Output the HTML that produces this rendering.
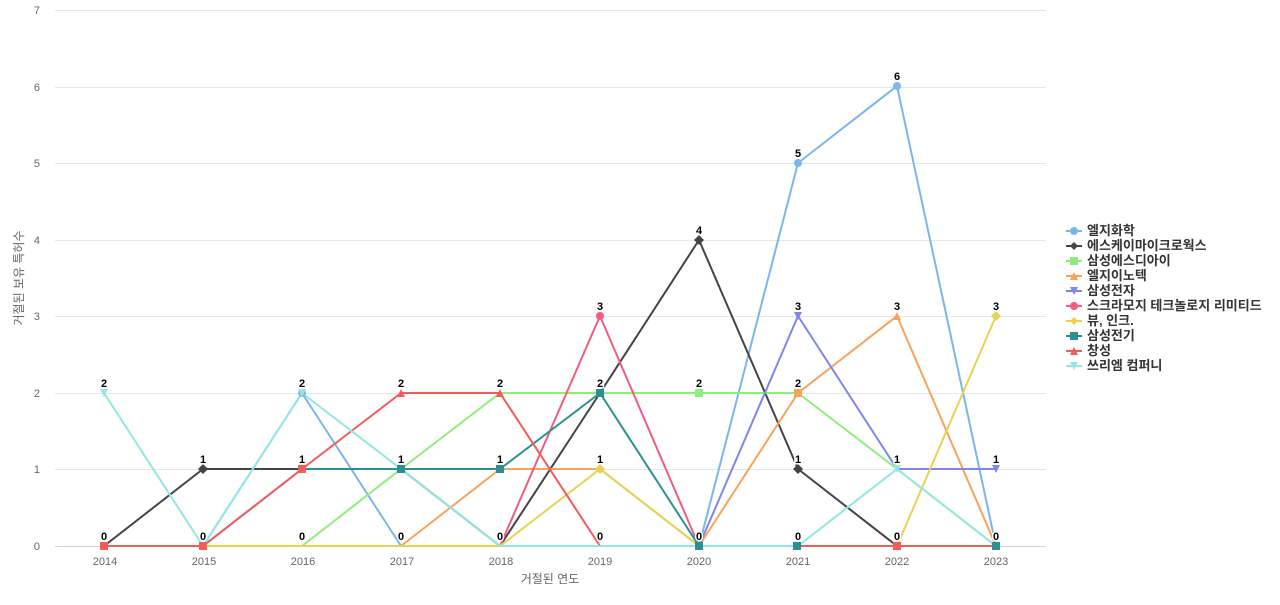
<!DOCTYPE html>
<html><head><meta charset="utf-8"><style>
body{margin:0;background:#fff;}
svg text{font-family:"Liberation Sans","Noto Sans CJK KR",sans-serif;}
</style></head><body>
<svg width="1280" height="600" viewBox="0 0 1280 600" xmlns="http://www.w3.org/2000/svg">
<g stroke="#e6e6e6" stroke-width="1">
<line x1="55" x2="1046" y1="10.5" y2="10.5"/><line x1="55" x2="1046" y1="87.5" y2="87.5"/><line x1="55" x2="1046" y1="163.5" y2="163.5"/><line x1="55" x2="1046" y1="240.5" y2="240.5"/><line x1="55" x2="1046" y1="316.5" y2="316.5"/><line x1="55" x2="1046" y1="393.5" y2="393.5"/><line x1="55" x2="1046" y1="469.5" y2="469.5"/>
</g>
<line x1="55" x2="1046" y1="546.5" y2="546.5" stroke="#ccd6eb"/>
<g font-size="11" fill="#666" text-anchor="end">
<text x="40" y="14">7</text><text x="40" y="91">6</text><text x="40" y="167">5</text><text x="40" y="244">4</text><text x="40" y="320">3</text><text x="40" y="397">2</text><text x="40" y="473">1</text><text x="40" y="550">0</text>
</g>
<g font-size="11" fill="#666" text-anchor="middle">
<text x="105" y="565">2014</text><text x="204" y="565">2015</text><text x="303" y="565">2016</text><text x="402" y="565">2017</text><text x="501" y="565">2018</text><text x="600" y="565">2019</text><text x="699" y="565">2020</text><text x="798" y="565">2021</text><text x="897" y="565">2022</text><text x="996" y="565">2023</text>
</g>
<text x="550" y="583" font-size="12" fill="#666" text-anchor="middle">거절된 연도</text>
<text transform="translate(23,278) rotate(-90)" font-size="12" fill="#666" text-anchor="middle">거절된 보유 특허수</text>
<g fill="none" stroke-width="2" stroke-linejoin="round">
<polyline stroke="#7cb5ec" points="104,546 203,546 302,393 401,546 500,546 600,546 699,546 798,163 897,86 996,546"/>
<polyline stroke="#434348" points="104,546 203,469 302,469 401,469 500,546 600,393 699,240 798,469 897,546 996,546"/>
<polyline stroke="#90ed7d" points="104,546 203,546 302,546 401,469 500,393 600,393 699,393 798,393 897,469 996,546"/>
<polyline stroke="#f7a35c" points="104,546 203,546 302,546 401,546 500,469 600,469 699,546 798,393 897,316 996,546"/>
<polyline stroke="#8085e9" points="104,546 203,546 302,546 401,546 500,546 600,546 699,546 798,316 897,469 996,469"/>
<polyline stroke="#f15c80" points="104,546 203,546 302,546 401,546 500,546 600,316 699,546 798,546 897,546 996,546"/>
<polyline stroke="#e4d354" points="104,546 203,546 302,546 401,546 500,546 600,469 699,546 798,546 897,546 996,316"/>
<polyline stroke="#2b908f" points="104,546 203,546 302,469 401,469 500,469 600,393 699,546 798,546 897,546 996,546"/>
<polyline stroke="#f45b5b" points="104,546 203,546 302,469 401,393 500,393 600,546 699,546 798,546 897,546 996,546"/>
<polyline stroke="#91e8e1" points="104,393 203,546 302,393 401,469 500,546 600,546 699,546 798,546 897,469 996,546"/>
</g>
<g>
<circle cx="302" cy="393" r="4" fill="#7cb5ec"/><circle cx="798" cy="163" r="4" fill="#7cb5ec"/><circle cx="897" cy="86" r="4" fill="#7cb5ec"/>
<circle cx="600" cy="316" r="4" fill="#f15c80"/>
<rect x="496" y="465" width="8" height="8" fill="#2b908f"/><rect x="596" y="389" width="8" height="8" fill="#2b908f"/><rect x="397" y="465" width="8" height="8" fill="#2b908f"/><rect x="298" y="465" width="8" height="8" fill="#f45b5b"/>
<rect x="695" y="389" width="8" height="8" fill="#90ed7d"/><rect x="794" y="389" width="8" height="8" fill="#f7a35c"/>
<polygon points="699,235 704,240 699,245 694,240" fill="#434348"/><polygon points="203,464 208,469 203,474 198,469" fill="#434348"/><polygon points="798,464 803,469 798,474 793,469" fill="#434348"/>
<polygon points="794,312 802,312 798,320" fill="#8085e9"/><polygon points="992,465 1000,465 996,473" fill="#8085e9"/>
<polygon points="897,312 901,320 893,320" fill="#f7a35c"/><polygon points="401,389 405,397 397,397" fill="#f45b5b"/><polygon points="500,389 504,397 496,397" fill="#f45b5b"/>
<polygon points="996,311 1001,316 996,321 991,316" fill="#e4d354"/><polygon points="600,464 605,469 600,474 595,469" fill="#e4d354"/>
<rect x="100" y="542" width="8" height="8" fill="#f45b5b"/><rect x="199" y="542" width="8" height="8" fill="#f45b5b"/><rect x="695" y="542" width="8" height="8" fill="#2b908f"/><rect x="793" y="542" width="8" height="8" fill="#2b908f"/><rect x="893" y="542" width="8" height="8" fill="#f45b5b"/><rect x="992" y="542" width="8" height="8" fill="#2b908f"/>
<polygon points="100,389 108,389 104,397" fill="#91e8e1"/><polygon points="298,389 306,389 302,397" fill="#91e8e1"/><polygon points="893,465 901,465 897,473" fill="#91e8e1"/>
</g>
<g font-size="11" font-weight="bold" fill="#000" text-anchor="middle" stroke="#fff" stroke-width="3" paint-order="stroke">
<text x="104" y="387">2</text><text x="104" y="540">0</text>
<text x="203" y="463">1</text><text x="203" y="540">0</text>
<text x="302" y="387">2</text><text x="302" y="463">1</text><text x="302" y="540">0</text>
<text x="401" y="387">2</text><text x="401" y="463">1</text><text x="401" y="540">0</text>
<text x="500" y="387">2</text><text x="500" y="463">1</text><text x="500" y="540">0</text>
<text x="600" y="310">3</text><text x="600" y="387">2</text><text x="600" y="463">1</text><text x="600" y="540">0</text>
<text x="699" y="234">4</text><text x="699" y="387">2</text><text x="699" y="540">0</text>
<text x="798" y="157">5</text><text x="798" y="310">3</text><text x="798" y="387">2</text><text x="798" y="463">1</text><text x="798" y="540">0</text>
<text x="897" y="80">6</text><text x="897" y="310">3</text><text x="897" y="463">1</text><text x="897" y="540">0</text>
<text x="996" y="310">3</text><text x="996" y="463">1</text><text x="996" y="540">0</text>
</g>
<g font-size="13" font-weight="bold" fill="#333">
<g stroke-width="2"><line x1="1066" x2="1082" y1="231" y2="231" stroke="#7cb5ec"/><line x1="1066" x2="1082" y1="246" y2="246" stroke="#434348"/><line x1="1066" x2="1082" y1="261" y2="261" stroke="#90ed7d"/><line x1="1066" x2="1082" y1="276" y2="276" stroke="#f7a35c"/><line x1="1066" x2="1082" y1="291" y2="291" stroke="#8085e9"/><line x1="1066" x2="1082" y1="306" y2="306" stroke="#f15c80"/><line x1="1066" x2="1082" y1="321" y2="321" stroke="#e4d354"/><line x1="1066" x2="1082" y1="336" y2="336" stroke="#2b908f"/><line x1="1066" x2="1082" y1="351" y2="351" stroke="#f45b5b"/><line x1="1066" x2="1082" y1="366" y2="366" stroke="#91e8e1"/></g>
<circle cx="1074" cy="231" r="4" fill="#7cb5ec"/><polygon points="1074,242 1078,246 1074,250 1070,246" fill="#434348"/><rect x="1070" y="257" width="8" height="8" fill="#90ed7d"/><polygon points="1074,272 1078,280 1070,280" fill="#f7a35c"/><polygon points="1070,287 1078,287 1074,295" fill="#8085e9"/><circle cx="1074" cy="306" r="4" fill="#f15c80"/><polygon points="1074,317 1078,321 1074,325 1070,321" fill="#e4d354"/><rect x="1070" y="332" width="8" height="8" fill="#2b908f"/><polygon points="1074,347 1078,355 1070,355" fill="#f45b5b"/><polygon points="1070,362 1078,362 1074,370" fill="#91e8e1"/>
<text x="1087" y="235">엘지화학</text><text x="1087" y="250">에스케이마이크로웍스</text><text x="1087" y="265">삼성에스디아이</text><text x="1087" y="280">엘지이노텍</text><text x="1087" y="295">삼성전자</text><text x="1087" y="310">스크라모지 테크놀로지 리미티드</text><text x="1087" y="325">뷰, 인크.</text><text x="1087" y="340">삼성전기</text><text x="1087" y="355">창성</text><text x="1087" y="370">쓰리엠 컴퍼니</text>
</g>
</svg>
</body></html>
